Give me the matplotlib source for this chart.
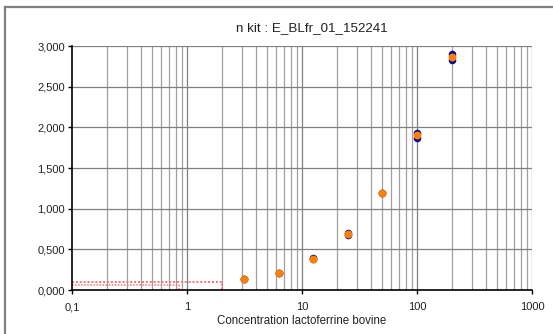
import matplotlib
matplotlib.use("Agg")
import matplotlib.pyplot as plt
from matplotlib.lines import Line2D
from matplotlib.ticker import FixedLocator, FuncFormatter, NullFormatter

plt.rcParams['font.family'] = ['Liberation Sans', 'DejaVu Sans']

title = "n kit : E_BLfr_01_152241"
xlabel = "Concentration lactoferrine bovine"

conc = [3.125, 6.25, 12.5, 25, 50, 100, 200]
rep1 = [0.139, 0.214, 0.390, 0.695, 1.196, 1.935, 2.905]
rep2 = [0.138, 0.212, 0.381, 0.680, 1.190, 1.867, 2.833]
mean = [0.139, 0.213, 0.385, 0.686, 1.193, 1.906, 2.869]

# detection limit guide lines (dotted red)
lod_x = [0.1, 2.0, 2.0]
lod_y = [0.10, 0.10, 0.0]
loq_x = [0.1, 0.86, 0.86]
loq_y = [0.06, 0.06, 0.0]

yticks = [0.0, 0.5, 1.0, 1.5, 2.0, 2.5, 3.0]
xticks = [0.1, 1, 10, 100, 1000]
xticklabels = ["0,1", "1", "10", "100", "1000"]

W, H = 553, 334
fig = plt.figure(figsize=(W / 100, H / 100), dpi=100)
L, R, T, B = 72, 532, 46, 290
ax = fig.add_axes([L / W, 1 - B / H, (R - L) / W, (B - T) / H])

ax.set_xscale('log')
ax.set_xlim(0.1, 1000)
ax.set_ylim(0, 3.0)

minors = [m * 10 ** e for e in range(-1, 3) for m in range(2, 10)]
for xv in minors:
    ax.axvline(xv, color='#a0a0a0', lw=0.9, zorder=0)
for xv in [1, 10, 100, 1000]:
    ax.axvline(xv, color='#808080', lw=0.9, zorder=0)
for yv in yticks[1:]:
    ax.axhline(yv, color='#808080', lw=0.9, zorder=0)

ax.plot(lod_x, lod_y, color='#ff7070', lw=1.4, ls=(0, (1, 1)), zorder=1)
ax.plot(loq_x, loq_y, color='#ff7070', lw=1.1, ls=(0, (1, 1)), zorder=1)

ax.scatter(conc, rep1, s=30, color='#0a0a96', zorder=3, linewidths=0)
ax.scatter(conc, rep2, s=30, color='#0a0a96', zorder=3, linewidths=0)
ax.scatter(conc, mean, s=32, color='#ff8000', zorder=4, linewidths=0)

ax.xaxis.set_major_locator(FixedLocator(xticks))
ax.xaxis.set_minor_locator(FixedLocator([]))
ax.set_xticklabels(xticklabels)
ax.xaxis.set_minor_formatter(NullFormatter())
ax.yaxis.set_major_locator(FixedLocator(yticks))
ax.yaxis.set_major_formatter(FuncFormatter(lambda v, p: ("%.3f" % v).replace('.', ',')))

ax.tick_params(axis='both', direction='out', length=3, width=1, color='black',
               labelsize=8, labelcolor='#222222', pad=2)
ax.tick_params(axis='x', pad=6)

for s in ['top', 'right']:
    ax.spines[s].set_visible(False)
for s in ['left', 'bottom']:
    ax.spines[s].set_color('black')
    ax.spines[s].set_linewidth(1.2)

fig.text(311.5 / W, 1 - 27.7 / H, title, ha='center', va='center', fontsize=9.6, color='#222222')
fig.text(301.5 / W, 1 - 321 / H, xlabel, ha='center', va='center', fontsize=8.3, color='#222222')

# outer chart frame (top and left edges visible)
fig.add_artist(Line2D([5 / W, 1.0], [1 - 7 / H, 1 - 7 / H], color='#808080', lw=1.6, transform=fig.transFigure))
fig.add_artist(Line2D([5 / W, 5 / W], [0.0, 1 - 7 / H], color='#808080', lw=1.6, transform=fig.transFigure))

fig.savefig('out.png', dpi=100, facecolor='white')
